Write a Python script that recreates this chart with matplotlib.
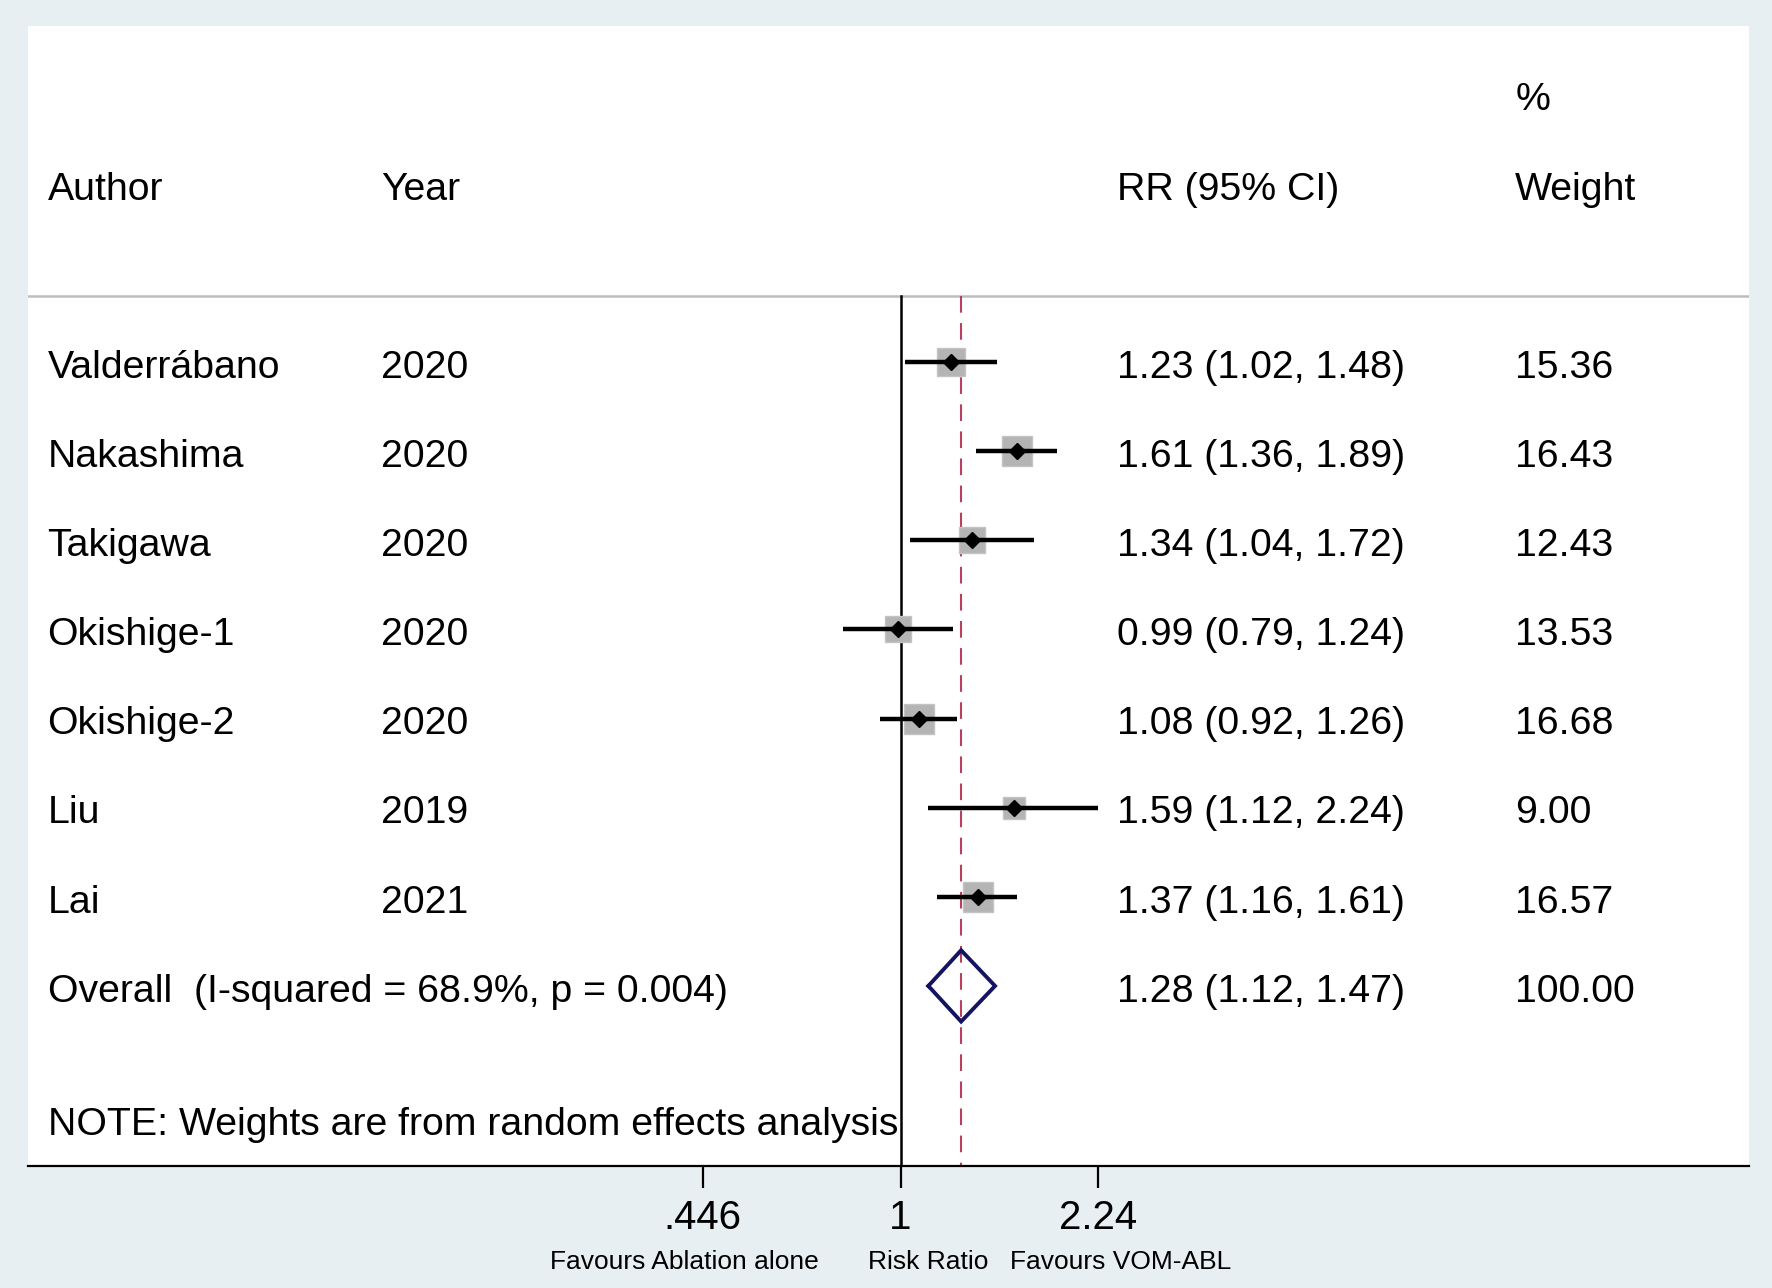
import numpy as np
import matplotlib
matplotlib.use('Agg')
import matplotlib.pyplot as plt
import matplotlib.transforms as mtransforms

plt.rcParams['font.family'] = ['Liberation Sans', 'DejaVu Sans']

# study data
authors = ['Valderrábano', 'Nakashima', 'Takigawa', 'Okishige-1', 'Okishige-2', 'Liu', 'Lai']
years = ['2020', '2020', '2020', '2020', '2020', '2019', '2021']
rr = [1.23, 1.61, 1.34, 0.99, 1.08, 1.59, 1.37]
ci_low = [1.02, 1.36, 1.04, 0.79, 0.92, 1.12, 1.16]
ci_high = [1.48, 1.89, 1.72, 1.24, 1.26, 2.24, 1.61]
weights = [15.36, 16.43, 12.43, 13.53, 16.68, 9.00, 16.57]

overall_rr = 1.28
overall_low = 1.12
overall_high = 1.47
overall_label = 'Overall  (I-squared = 68.9%, p = 0.004)'
note = 'NOTE: Weights are from random effects analysis'

xticks = [0.446, 1, 2.24]
xtick_labels = ['.446', '1', '2.24']

bg = '#e8eff2'
W, H = 1568, 1140  # reference pixel frame

fig = plt.figure(figsize=(17.72, 12.88), dpi=100, facecolor=bg)
left, right, top, bottom = 25, 1548, 23, 1032
ax = fig.add_axes([left / W, 1 - bottom / H, (right - left) / W, (bottom - top) / H])
ax.set_facecolor('white')

ax.set_xscale('log')
ax.set_xlim(np.exp(-3.558), np.exp(3.462))
ax.set_ylim(-9.0, 3.79)

for s in ['top', 'left', 'right']:
    ax.spines[s].set_visible(False)
ax.spines['bottom'].set_linewidth(1.6)
ax.set_yticks([])
ax.set_xticks(xticks)
ax.set_xticklabels(xtick_labels)
ax.xaxis.set_minor_locator(matplotlib.ticker.NullLocator())
ax.tick_params(axis='x', length=16, width=1.6, labelsize=29, pad=8)

fs = 28.3
dy = -0.045  # text baseline nudge
trans = mtransforms.blended_transform_factory(ax.transAxes, ax.transData)
col_author, col_year, col_rr, col_w = 0.0112, 0.2049, 0.6323, 0.864

# header
ax.text(col_author, 2 + dy, 'Author', transform=trans, fontsize=fs, va='center')
ax.text(col_year, 2 + dy, 'Year', transform=trans, fontsize=fs, va='center')
ax.text(col_rr, 2 + dy, 'RR (95% CI)', transform=trans, fontsize=fs, va='center')
ax.text(col_w, 3 + dy, '%', transform=trans, fontsize=fs, va='center')
ax.text(col_w, 2 + dy, 'Weight', transform=trans, fontsize=fs, va='center')
ax.axhline(0.76, color='#bdbdbd', lw=1.8)

ybot = -9.0
ax.plot([1, 1], [0.76, ybot], color='black', lw=1.8, zorder=2)
ax.plot([overall_rr, overall_rr], [0.76, ybot], color='#b8405e', lw=1.5,
        dashes=(8, 5), zorder=2)

for i in range(len(authors)):
    y = -i + 0.02
    ax.plot([ci_low[i], ci_high[i]], [y, y], color='black', lw=3.2, zorder=3,
            solid_capstyle='butt')
    ax.plot(rr[i], y, marker='s', ms=5.2 * np.sqrt(weights[i]), color='#b4b4b4',
            mec='#c4c4c4', zorder=2.5)
    ax.plot(rr[i], y, marker='D', ms=8.5, color='black', zorder=4)
    ty = -i + dy
    ax.text(col_author, ty, authors[i], transform=trans, fontsize=fs, va='center')
    ax.text(col_year, ty, years[i], transform=trans, fontsize=fs, va='center')
    ax.text(col_rr, ty, f'{rr[i]:.2f} ({ci_low[i]:.2f}, {ci_high[i]:.2f})',
            transform=trans, fontsize=fs, va='center')
    ax.text(col_w, ty, f'{weights[i]:.2f}', transform=trans, fontsize=fs, va='center')

# overall
yo = -7 + 0.02
ax.plot([overall_low, overall_rr, overall_high, overall_rr, overall_low],
        [yo, yo + 0.4, yo, yo - 0.4, yo], color='#141460', lw=2.8, zorder=4,
        solid_joinstyle='miter')
ax.text(col_author, -7 + dy, overall_label, transform=trans, fontsize=fs, va='center')
ax.text(col_rr, -7 + dy, f'{overall_rr:.2f} ({overall_low:.2f}, {overall_high:.2f})',
        transform=trans, fontsize=fs, va='center')
ax.text(col_w, -7 + dy, f'{sum(weights):.2f}', transform=trans, fontsize=fs, va='center')

ax.text(col_author, -8.5 + dy, note, transform=trans, fontsize=fs, va='center')

# axis captions
trans2 = mtransforms.blended_transform_factory(ax.transData, ax.transAxes)
cap_fs = 19
ax.text(0.4146, -0.084, 'Favours Ablation alone', transform=trans2, fontsize=cap_fs,
        ha='center', va='center')
ax.text(1.117, -0.084, 'Risk Ratio', transform=trans2, fontsize=cap_fs, ha='center', va='center')
ax.text(2.457, -0.084, 'Favours VOM-ABL', transform=trans2, fontsize=cap_fs, ha='center', va='center')

fig.savefig('out.png', dpi=100, facecolor=bg)
